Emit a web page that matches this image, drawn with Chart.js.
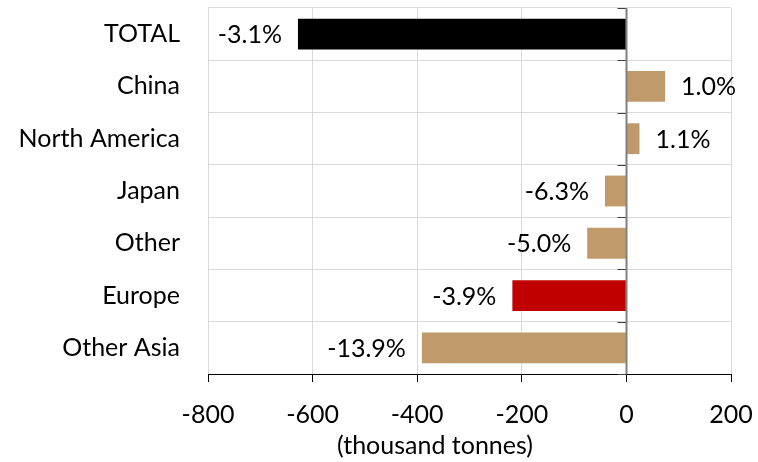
<!DOCTYPE html>
<html>
<head>
<meta charset="utf-8">
<script src="https://cdn.jsdelivr.net/npm/chart.js@4/dist/chart.umd.min.js"></script>
<style>
html,body{margin:0;padding:0;background:#fff;}
#wrap{width:758px;height:462px;position:relative;}
</style>
</head>
<body>
<div id="wrap"><canvas id="c" width="758" height="462"></canvas></div>
<script>
const categories = ['TOTAL', 'China', 'North America', 'Japan', 'Other', 'Europe', 'Other Asia'];
const values = [-628, 74, 25, -41, -75, -218, -391];
const pctLabels = ['-3.1%', '1.0%', '1.1%', '-6.3%', '-5.0%', '-3.9%', '-13.9%'];
const barColors = ['#000000', '#C09A6B', '#C09A6B', '#C09A6B', '#C09A6B', '#C00000', '#C09A6B'];
const xMin = -800, xMax = 200, xStep = 200;
const xTitle = '(thousand tonnes)';

const FONT = 'Lato';
const FS = 25;

const labelPlugin = {
  id: 'barLabels',
  afterDatasetsDraw(chart) {
    const ctx = chart.ctx;
    const meta = chart.getDatasetMeta(0);
    ctx.save();
    ctx.font = FS + 'px ' + FONT;
    ctx.fillStyle = '#000';
    ctx.textBaseline = 'middle';
    meta.data.forEach((bar, i) => {
      const neg = values[i] < 0;
      ctx.textAlign = neg ? 'right' : 'left';
      ctx.fillText(pctLabels[i], bar.x + (neg ? -16 : 16), bar.y + 1);
    });
    ctx.restore();
  }
};

// zero axis line with outward ticks at category boundaries
const zeroAxisPlugin = {
  id: 'zeroAxis',
  afterDatasetsDraw(chart) {
    const ctx = chart.ctx;
    const xs = chart.scales.x, ys = chart.scales.y;
    const x0 = Math.round(xs.getPixelForValue(0)) + 0.5;
    ctx.save();
    ctx.strokeStyle = '#404040';
    ctx.lineWidth = 1;
    for (let i = 0; i <= categories.length; i++) {
      const y = Math.round(ys.getPixelForValue(i - 0.5)) + 0.5;
      ctx.beginPath();
      ctx.moveTo(x0 - 9, y);
      ctx.lineTo(x0, y);
      ctx.stroke();
    }
    ctx.strokeStyle = '#808080';
    ctx.lineWidth = 2;
    ctx.beginPath();
    ctx.moveTo(x0, ys.top);
    ctx.lineTo(x0, ys.bottom);
    ctx.stroke();
    ctx.restore();
  }
};

const titlePlugin = {
  id: 'xTitle',
  afterDraw(chart) {
    const ctx = chart.ctx;
    const xs = chart.scales.x;
    ctx.save();
    ctx.font = FS + 'px ' + FONT;
    ctx.fillStyle = '#000';
    ctx.textAlign = 'center';
    ctx.textBaseline = 'middle';
    ctx.fillText(xTitle, xs.getPixelForValue(-366), xs.top + 72);
    ctx.restore();
  }
};

new Chart(document.getElementById('c'), {
  type: 'bar',
  data: {
    labels: categories,
    datasets: [{
      data: values,
      backgroundColor: barColors,
      borderWidth: 0,
      categoryPercentage: 1,
      barPercentage: 0.59
    }]
  },
  options: {
    indexAxis: 'y',
    responsive: false,
    animation: false,
    devicePixelRatio: 1,
    layout: { padding: { top: 8, right: 27, bottom: 14, left: 0 } },
    plugins: { legend: { display: false }, tooltip: { enabled: false } },
    scales: {
      x: {
        min: xMin, max: xMax,
        afterFit(s) { s.paddingLeft = 0; s.paddingRight = 0; },
        ticks: { stepSize: xStep, color: '#000', font: { family: FONT, size: FS }, padding: 18, maxRotation: 0 },
        grid: { color: '#d9d9d9', tickColor: '#000', tickLength: 8, lineWidth: 1 },
        border: { color: '#000', width: 1 }
      },
      y: {
        type: 'category',
        offset: true,
        afterFit(s) { s.paddingTop = 0; s.paddingBottom = 0; s.width = 208; },
        ticks: { color: '#000', font: { family: FONT, size: FS }, padding: 28 },
        grid: { color: '#d9d9d9', offset: true, drawTicks: false, lineWidth: 1 },
        border: { display: false }
      }
    }
  },
  plugins: [labelPlugin, zeroAxisPlugin, titlePlugin]
});
</script>
</body>
</html>
